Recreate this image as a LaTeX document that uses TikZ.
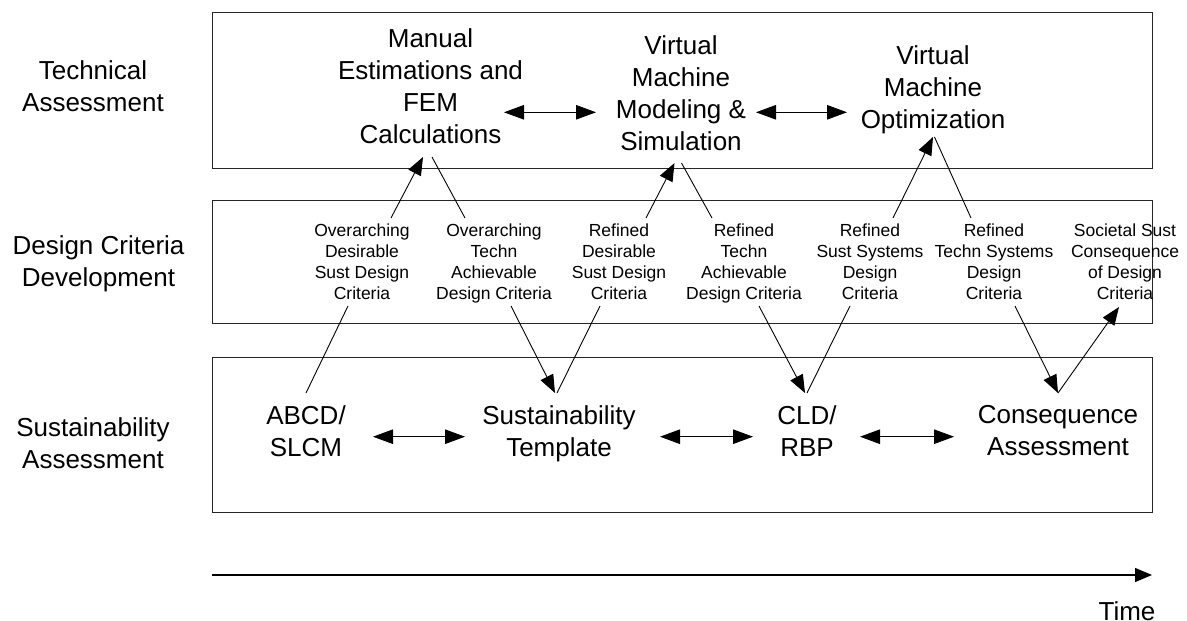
\documentclass[tikz,border=0pt]{standalone}
\usepackage{fontspec}
\setmainfont{Liberation Sans}
\usetikzlibrary{arrows.meta,calc}

\begin{document}
\begin{tikzpicture}
[x=1pt,y=-1pt]
\tikzset{
	phase/.style = {font=\fontsize{26}{32}\selectfont, align=center, inner sep=0, anchor=north},
	crit/.style = {font=\fontsize{17.5}{21}\selectfont, align=center, inner sep=0, anchor=north},
	frame/.style = {draw=black!85, line width=1pt},
	link/.style = {line width=0.9pt},
	flow/.style = {link, -{Triangle[length=18pt,width=14pt]}},
	swap/.style = {link, {Triangle[length=20pt,width=14.5pt]}-{Triangle[length=20pt,width=14.5pt]}},
	timeline/.style = {line width=1.3pt, -{Triangle[length=17pt,width=14pt]}}
}
\useasboundingbox (0,0) rectangle (1187,621);

% the three bands
\draw[frame] (212,12) rectangle (1152,168);
\draw[frame] (212,200) rectangle (1152,323);
\draw[frame] (212,357) rectangle (1152,512);

\node[phase] (tech) at (93,60.3) {Technical\\Assessment};
\node[phase] (dcd) at (98.5,235.3) {Design Criteria\\Development};
\node[phase] (sust) at (93,417.3) {Sustainability\\Assessment};

% technical assessment
\node[phase] (man) at (430.5,28.3) {Manual\\Estimations and\\FEM\\Calculations};
\node[phase] (vmm) at (681,35.3) {Virtual\\Machine\\Modeling \&\\Simulation};
\node[phase] (vmo) at (933,45.3) {Virtual\\Machine\\Optimization};

% design criteria
\node[crit] (ods) at (362,223.5) {Overarching\\Desirable\\Sust Design\\Criteria};
\node[crit] (otdc) at (494,223.5) {Overarching\\Techn\\Achievable\\Design Criteria};
\node[crit] (rds) at (619,223.5) {Refined\\Desirable\\Sust Design\\Criteria};
\node[crit] (rtdc) at (744,223.5) {Refined\\Techn\\Achievable\\Design Criteria};
\node[crit] (rss) at (870,223.5) {Refined\\Sust Systems\\Design\\Criteria};
\node[crit] (rts) at (994,223.5) {Refined\\Techn Systems\\Design\\Criteria};
\node[crit] (ssc) at (1125,223.5) {Societal Sust\\Consequence\\of Design\\Criteria};

% sustainability assessment
\node[phase] (abcd) at (306,405.3) {ABCD/\\SLCM};
\node[phase] (tmpl) at (559,405.3) {Sustainability\\Template};
\node[phase] (cld) at (807,405.3) {CLD/\\RBP};
\node[phase] (cons) at (1058,405.3) {Consequence\\Assessment};

% iterations inside the bands
\draw[swap] ($(man.north)+(73.5,84)$) -- ($(vmm.north)+(-85,77)$);
\draw[swap] ($(vmm.north)+(75,77)$) -- ($(vmo.north)+(-86,67)$);
\draw[swap] ($(abcd.north)+(67,31.4)$) -- ($(tmpl.north)+(-94,31.4)$);
\draw[swap] ($(tmpl.north)+(101,31.4)$) -- ($(cld.north)+(-54,31.4)$);
\draw[swap] ($(cld.north)+(53,31.4)$) -- ($(cons.north)+(-104,31.4)$);

% criteria up to technical
\draw[flow] ($(ods.north)+(29,-5.5)$) -- ($(man.north)+(-7.5,128.7)$);
\draw[link] ($(man.north)+(1.5,128.7)$) -- ($(otdc.north)+(-29,-5.5)$);
\draw[flow] ($(rds.north)+(27,-5.5)$) -- ($(vmm.north)+(-6.5,127.7)$);
\draw[link] ($(vmm.north)+(0.5,127.7)$) -- ($(rtdc.north)+(-32,-5.5)$);
\draw[flow] ($(rss.north)+(23,-5.5)$) -- ($(vmo.north)+(0,91.7)$);
\draw[link] ($(vmo.north)+(1.5,91.7)$) -- ($(rts.north)+(-23,-5.5)$);

% criteria down to sustainability
\draw[link] ($(ods.north)+(-14,82.5)$) -- ($(abcd.north)+(0,-12.3)$);
\draw[flow] ($(otdc.north)+(17,82.5)$) -- ($(tmpl.north)+(-4,-12.3)$);
\draw[link] ($(tmpl.north)+(-2,-12.3)$) -- ($(rds.north)+(-19,82.5)$);
\draw[flow] ($(rtdc.north)+(15,82.5)$) -- ($(cld.north)+(-2,-12.3)$);
\draw[link] ($(cld.north)+(0,-12.3)$) -- ($(rss.north)+(-20,82.5)$);
\draw[flow] ($(rts.north)+(21,82.5)$) -- ($(cons.north)+(0,-12.3)$);
\draw[flow] ($(cons.north)+(0,-12.3)$) -- ($(ssc.north)+(-6,83.5)$);

% time axis
\coordinate (t0) at (212,575);
\coordinate (t1) at (1152,575);
\draw[timeline] (t0) -- (t1);
\node[phase] (time) at (1127,601.5) {Time};

\end{tikzpicture}
\end{document}
